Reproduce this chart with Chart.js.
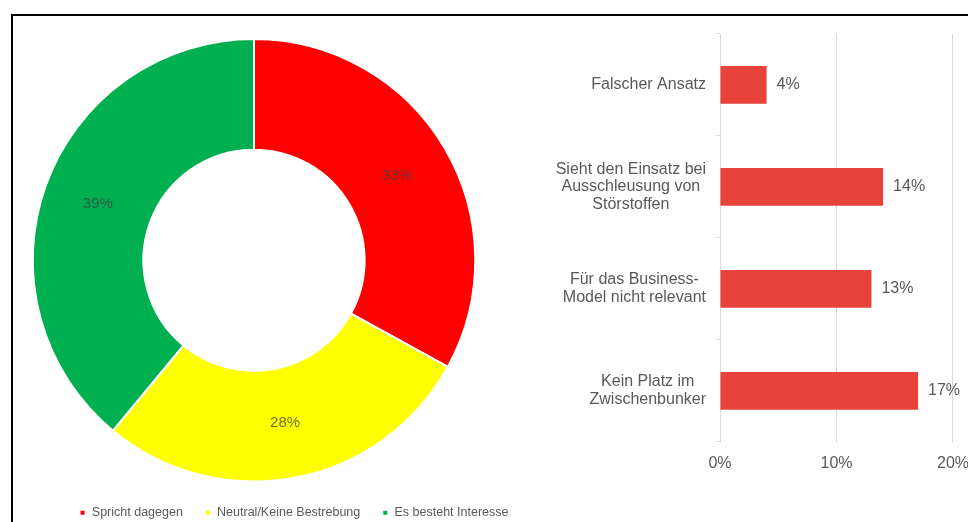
<!DOCTYPE html>
<html lang="de">
<head>
<meta charset="utf-8">
<title>Bewertung</title>
<script src="https://cdn.jsdelivr.net/npm/chart.js@4.4.1/dist/chart.umd.min.js"></script>
<style>
  html, body { margin: 0; padding: 0; background: #fff; overflow: hidden; }
  body { width: 968px; height: 522px; position: relative; }
  .frame { position: absolute; left: 11px; top: 14px; right: -10px; bottom: -10px;
           border-top: 2px solid #000; border-left: 2px solid #000; }
  #share-wrap { position: absolute; left: -30px; top: 16px; width: 568px; height: 511px; }
  #reason-wrap { position: absolute; left: 540px; top: 16px; width: 441px; height: 506px; }
</style>
</head>
<body>
<div class="frame"></div>
<div id="share-wrap"><canvas id="share-chart"></canvas></div>
<div id="reason-wrap"><canvas id="reason-chart"></canvas></div>

<script>
const FONT = "'Liberation Sans', Arial, sans-serif";
const TEXT_GREY = '#595959';

// Haltung zum Einsatz (Anteile in %)
const shareLabels = ['Spricht dagegen', 'Neutral/Keine Bestrebung', 'Es besteht Interesse'];
const shareValues = [33, 28, 39];
const shareColors = ['#FF0000', '#FFFF00', '#00B050'];

// Gründe (Anteile in %)
const reasonLabels = [
  ['Falscher Ansatz'],
  ['Sieht den Einsatz bei', 'Ausschleusung von', 'Störstoffen'],
  ['Für das Business-', 'Model nicht relevant'],
  ['Kein Platz im', 'Zwischenbunker']
];
const reasonValues = [4, 14, 13, 17];
const reasonTicks = [0, 10, 20];

// ── PLUGINS ───────────────────────────────────────────────────────────────────

// percentage text in the middle of each ring segment
const arcLabels = {
  id: 'arcLabels',
  afterDatasetsDraw(chart) {
    const ctx = chart.ctx;
    const meta = chart.getDatasetMeta(0);
    ctx.save();
    ctx.font = '15px ' + FONT;
    ctx.fillStyle = 'rgba(64,64,64,0.75)';
    ctx.textAlign = 'center';
    ctx.textBaseline = 'middle';
    meta.data.forEach((arc, i) => {
      const p = arc.tooltipPosition();
      ctx.fillText(shareValues[i] + '%', p.x, p.y);
    });
    ctx.restore();
  }
};

// legend sits a bit right of the ring centre and a little lower
const legendShift = {
  id: 'legendShift',
  afterLayout(chart) {
    const lg = chart.legend;
    lg.left += 40; lg.right += 40;
    lg.top += 2; lg.bottom += 2;
  }
};

// value after each bar + category text left of the axis (each block centred on itself)
const barText = {
  id: 'barText',
  afterDatasetsDraw(chart) {
    const ctx = chart.ctx;
    const meta = chart.getDatasetMeta(0);
    const yScale = chart.scales.y;
    const right = chart.chartArea.left - 14;
    const lineH = 17.6;
    ctx.save();
    ctx.font = '16px ' + FONT;
    ctx.fillStyle = TEXT_GREY;
    ctx.textBaseline = 'middle';

    ctx.textAlign = 'left';
    meta.data.forEach((bar, i) => {
      ctx.fillText(reasonValues[i] + '%', bar.x + 10, bar.y);
    });

    ctx.textAlign = 'center';
    reasonLabels.forEach((lines, i) => {
      const w = Math.max(...lines.map(l => ctx.measureText(l).width));
      const cx = right - w / 2;
      const cy = yScale.getPixelForValue(i);
      const y0 = cy - (lines.length - 1) * lineH / 2;
      lines.forEach((l, j) => ctx.fillText(l, cx, y0 + j * lineH));
    });
    ctx.restore();
  }
};

// ── CHARTS ────────────────────────────────────────────────────────────────────

Chart.defaults.font.family = FONT;
Chart.defaults.color = TEXT_GREY;

new Chart(document.getElementById('share-chart'), {
  type: 'doughnut',
  data: {
    labels: shareLabels,
    datasets: [{
      data: shareValues,
      backgroundColor: shareColors,
      borderColor: '#fff',
      borderWidth: 2
    }]
  },
  options: {
    responsive: true,
    maintainAspectRatio: false,
    animation: false,
    cutout: '50%',
    layout: { padding: { top: 22, right: 0, left: 0, bottom: 0 } },
    plugins: {
      tooltip: { enabled: false },
      legend: {
        position: 'bottom',
        labels: {
          boxWidth: 6,
          boxHeight: 6,
          padding: 22,
          font: { size: 12.5 },
          color: TEXT_GREY
        }
      }
    }
  },
  plugins: [arcLabels, legendShift]
});

new Chart(document.getElementById('reason-chart'), {
  type: 'bar',
  data: {
    labels: reasonLabels.map(l => l.join(' ')),
    datasets: [{
      data: reasonValues,
      backgroundColor: '#E8433A',
      categoryPercentage: 1,
      barPercentage: 0.37
    }]
  },
  options: {
    indexAxis: 'y',
    responsive: true,
    maintainAspectRatio: false,
    animation: false,
    layout: { padding: { top: 18, left: 176, right: 0, bottom: 37 } },
    plugins: { legend: { display: false }, tooltip: { enabled: false } },
    scales: {
      x: {
        min: reasonTicks[0],
        max: reasonTicks[reasonTicks.length - 1],
        afterBuildTicks: scale => { scale.ticks = reasonTicks.map(v => ({ value: v })); },
        grid: { color: '#D9D9D9', lineWidth: 1, drawTicks: false },
        border: { display: false },
        ticks: {
          padding: 12,
          font: { size: 16 },
          color: TEXT_GREY,
          callback: v => v + '%'
        }
      },
      y: {
        grid: { color: '#D9D9D9', drawOnChartArea: false, offset: true, tickLength: 4 },
        border: { display: true, color: '#D9D9D9' },
        ticks: { display: false }
      }
    }
  },
  plugins: [barText]
});
</script>
</body>
</html>
